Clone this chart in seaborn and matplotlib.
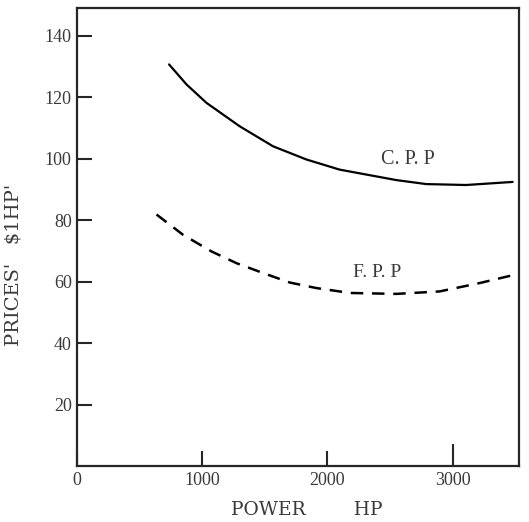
import numpy as np
import pandas as pd
import matplotlib
matplotlib.use("Agg")
import matplotlib.pyplot as plt
import seaborn as sns

# values
cpp_power = [734, 873, 1033, 1298, 1564, 1831, 2097, 2310, 2550, 2789, 3108, 3480]
cpp_price = [130.6, 124.1, 118.1, 110.5, 104.0, 99.7, 96.4, 94.8, 93.0, 91.7, 91.4, 92.4]

fpp_power = [634, 846, 1073, 1272, 1484, 1698, 1911, 2180, 2549, 2895, 3214, 3493]
fpp_price = [81.8, 75.2, 69.8, 66.0, 62.8, 59.7, 57.9, 56.3, 56.0, 56.8, 59.5, 62.2]

x_ticks = [0, 1000, 2000, 3000]
y_ticks = [20, 40, 60, 80, 100, 120, 140]

cpp = pd.DataFrame({"power": cpp_power, "price": cpp_price})
fpp = pd.DataFrame({"power": fpp_power, "price": fpp_price})

sns.set_style("ticks")
plt.rcParams["font.family"] = ["Liberation Serif", "DejaVu Serif"]

fig = plt.figure(figsize=(5.29, 5.22), dpi=100)
ax = fig.add_axes([0.146, 0.107, 0.835, 0.878])

sns.lineplot(data=cpp, x="power", y="price", ax=ax, color="black", lw=1.6)
sns.lineplot(data=fpp, x="power", y="price", ax=ax, color="black", lw=1.8)
ax.lines[-1].set_dashes((5, 3.5))
for ln in ax.lines:
    ln.set_solid_joinstyle("round")
    ln.set_dash_joinstyle("round")

txt = "#3a3a3a"
ax.text(2640, 99.6, "C. P. P", ha="center", va="center", fontsize=14.5, color=txt)
ax.text(2400, 62.9, "F. P. P", ha="center", va="center", fontsize=14, color=txt)

ax.set_xlim(0, 3530)
ax.set_ylim(0, 149)
ax.set_xticks(x_ticks)
ax.set_yticks(y_ticks)
ax.tick_params(direction="in", length=11, width=1.5, labelsize=13,
               labelcolor=txt, pad=4)
ax.xaxis.get_major_ticks()[3].tick1line.set_markersize(16)
for sp in ax.spines.values():
    sp.set_linewidth(1.6)
    sp.set_visible(True)

ax.set_xlabel("POWER        HP", fontsize=13.5, color=txt, family="DejaVu Serif")
ax.xaxis.set_label_coords(0.52, -0.076)
ax.set_ylabel("PRICES'   $1HP'", fontsize=14, color=txt, family="DejaVu Serif")
ax.yaxis.set_label_coords(-0.125, 0.44)

fig.savefig("out.png", dpi=100)
